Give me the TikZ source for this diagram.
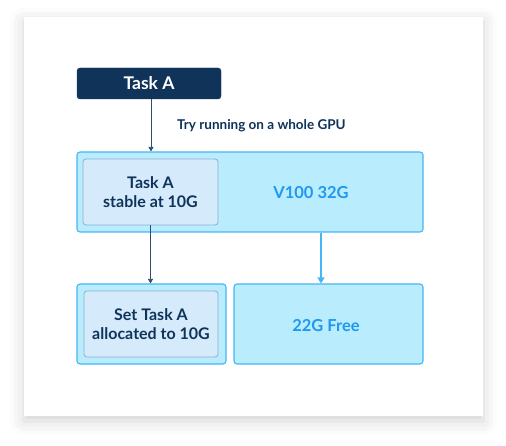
\documentclass[tikz,border=0pt]{standalone}
\usepackage{fontspec}
\setmainfont{Lato}
\usetikzlibrary{arrows.meta,shadows.blur}
\definecolor{navy}{HTML}{10335A}
\definecolor{navyline}{HTML}{2E4D70}
\definecolor{skyfill}{HTML}{B9ECFD}
\definecolor{skyline}{HTML}{45B6F6}
\definecolor{innerfill}{HTML}{D5EBFC}
\definecolor{innerline}{HTML}{8EAECD}
\definecolor{bluetext}{HTML}{1F98F2}
\tikzset{
  card/.style={fill=white, draw=none, blur shadow={shadow xshift=0pt, shadow yshift=-5pt, shadow blur radius=14pt, shadow opacity=18}},
  taskbox/.style={fill=navy, draw=navy, rounded corners=3pt, text=white, font=\bfseries\fontsize{17.5}{19}\selectfont, inner sep=0pt},
  gpubox/.style={fill=skyfill, draw=skyline, line width=1.1pt, rounded corners=3pt, inner sep=0pt},
  innerbox/.style={fill=innerfill, draw=innerline, line width=0.8pt, rounded corners=3pt, text=navy, font=\bfseries\fontsize{16}{18.5}\selectfont, align=center, inner sep=0pt},
  gputext/.style={text=bluetext, font=\bfseries\fontsize{16.5}{19}\selectfont, inner sep=0pt},
  lbl/.style={text=navy, font=\bfseries\fontsize{13.5}{15}\selectfont, inner sep=0pt},
  darkarrow/.style={draw=navyline, line width=0.8pt, -{Triangle[width=5pt,length=4.5pt]}},
  lightarrow/.style={draw=skyline, line width=1.1pt, -{Triangle[width=7pt,length=6pt]}},
}
\begin{document}
\begin{tikzpicture}[x=1pt,y=-1pt]
\useasboundingbox (0,0) rectangle (506,446);
\node[card, minimum width=459pt, minimum height=399pt, inner sep=0pt] (card) at (253.5,216.5) {};
\node[taskbox, minimum width=144pt, minimum height=31pt] (taska) at (149,83.5) {Task A};
\node[gpubox, minimum width=346pt, minimum height=80pt] (v100) at (250,192) {};
\node[innerbox, minimum width=135pt, minimum height=66pt] (stable) at (150.5,192) {Task A\\stable at 10G};
\node[gputext] (v100t) at (311,193) {V100 32G};
\node[gpubox, minimum width=149pt, minimum height=80pt] (alloc) at (151.5,324) {};
\node[innerbox, minimum width=134pt, minimum height=66pt] (settask) at (151,324) {Set Task A\\allocated to 10G};
\node[gpubox, minimum width=189pt, minimum height=80pt] (free) at (328.5,324) {};
\node[gputext] (freet) at (326,326) {22G Free};
\node[lbl, anchor=west] (try) at (177,125.5) {Try running on a whole GPU};
\draw[darkarrow] ([xshift=2pt]taska.south) -- ([xshift=2pt]taska.south |- v100.north);
\draw[darkarrow] (stable.south) -- (stable.south |- alloc.north);
\coordinate (vsplit) at ([xshift=71pt]v100.south);
\draw[lightarrow] (vsplit) -- (vsplit |- free.north);
\end{tikzpicture}
\end{document}
